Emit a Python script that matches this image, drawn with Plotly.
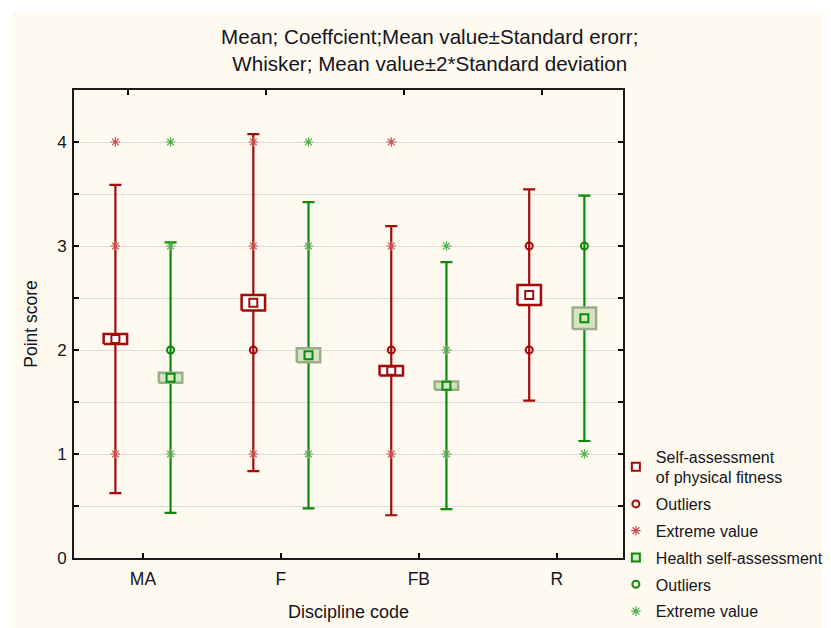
import plotly.graph_objects as go

# ---------------- data ----------------
categories = ["MA", "F", "FB", "R"]

fit_mean = [2.106, 2.455, 1.801, 2.529]
fit_se = [0.048, 0.075, 0.046, 0.096]
fit_sd = [0.741, 0.810, 0.695, 0.508]

health_mean = [1.734, 1.949, 1.657, 2.305]
health_se = [0.048, 0.067, 0.040, 0.104]
health_sd = [0.650, 0.736, 0.594, 0.590]

fit_outlier_cat = ["F", "FB", "R", "R"]
fit_outlier_val = [2, 2, 3, 2]
fit_extreme_cat = ["MA", "MA", "MA", "F", "F", "F", "FB", "FB", "FB"]
fit_extreme_val = [4, 3, 1, 4, 3, 1, 4, 3, 1]

health_outlier_cat = ["MA", "R"]
health_outlier_val = [2, 3]
health_extreme_cat = ["MA", "MA", "MA", "F", "F", "F", "FB", "FB", "FB", "R"]
health_extreme_val = [4, 3, 1, 4, 3, 1, 3, 2, 1, 1]

y_ticks = [0, 0.5, 1, 1.5, 2, 2.5, 3, 3.5, 4, 4.5]
y_ticktext = ["0", "", "1", "", "2", "", "3", "", "4", ""]

# ---------------- styling ----------------
RED = "#a30a0a"
RED_LIGHT = "#c94f4f"
GREEN = "#0b8a0b"
GREEN_LIGHT = "#4cae4c"
GREEN_FILL = "#d3e5c1"
GREEN_EDGE = "#9aae8a"
TXT = "#141420"
OFFSET = 0.2
HALF_W = 0.085

W, H = 823, 620
L, R, T, B = 66, 208, 82, 70
PW, PH = W - L - R, H - T - B

pos = {c: i for i, c in enumerate(categories)}


def xs(cats, off):
    return [pos[c] + off for c in cats]


def box_poly(means, ses, off):
    px, py = [], []
    for i, (m, s) in enumerate(zip(means, ses)):
        x = i + off
        px += [x - HALF_W, x + HALF_W, x + HALF_W, x - HALF_W, x - HALF_W, None]
        py += [m - s, m - s, m + s, m + s, m - s, None]
    return px, py


fig = go.Figure()

series = [
    ("Self-assessment<br>of physical fitness", fit_mean, fit_se, fit_sd, -OFFSET,
     RED, RED_LIGHT, "white", RED, "white",
     fit_outlier_cat, fit_outlier_val, fit_extreme_cat, fit_extreme_val, 0),
    ("Health self-assessment", health_mean, health_se, health_sd, OFFSET,
     GREEN, GREEN_LIGHT, GREEN_FILL, GREEN_EDGE, GREEN_FILL,
     health_outlier_cat, health_outlier_val, health_extreme_cat, health_extreme_val, 3),
]

# whiskers + boxes
for (name, m, se, sd, off, col, lcol, bfill, bedge, mfill, oc, ov, ec, ev, rk) in series:
    fig.add_trace(go.Scatter(
        x=[i + off for i in range(len(categories))], y=m, mode="markers",
        marker=dict(size=1, color="rgba(0,0,0,0)"),
        error_y=dict(type="data", array=[2 * v for v in sd], symmetric=True,
                     color=col, thickness=2.2, width=6),
        showlegend=False, hoverinfo="skip"))
    bx, by = box_poly(m, se, off)
    fig.add_trace(go.Scatter(
        x=bx, y=by, mode="lines", fill="toself", fillcolor=bfill,
        line=dict(color=bedge, width=2.5), showlegend=False, hoverinfo="skip"))

# means, outliers, extremes
for (name, m, se, sd, off, col, lcol, bfill, bedge, mfill, oc, ov, ec, ev, rk) in series:
    fig.add_trace(go.Scatter(
        x=[i + off for i in range(len(categories))], y=m, mode="markers", name=name,
        marker=dict(symbol="square", size=8, color=mfill, line=dict(color=col, width=2)),
        legendrank=rk + 1, legendgroup=f"g{rk+1}"))
    fig.add_trace(go.Scatter(
        x=xs(oc, off), y=ov, mode="markers", name="Outliers",
        marker=dict(symbol="circle-open", size=7, color=col, line=dict(width=2)),
        legendrank=rk + 2, legendgroup=f"g{rk+2}"))
    fig.add_trace(go.Scatter(
        x=xs(ec, off), y=ev, mode="markers", name="Extreme value",
        marker=dict(symbol="asterisk-open", size=8, color=lcol, line=dict(width=1.2, color=lcol)),
        legendrank=rk + 3, legendgroup=f"g{rk+3}"))

# invisible trace to carry the top tick axis
fig.add_trace(go.Scatter(x=[pos[c] - 0.11 for c in categories], y=fit_mean, xaxis="x2",
                         mode="markers", marker=dict(size=1, color="rgba(0,0,0,0)"),
                         showlegend=False, hoverinfo="skip"))

xrange = [-0.5, 3.48]
fig.update_layout(
    width=W, height=H,
    margin=dict(l=L, r=R, t=T, b=B, autoexpand=False),
    paper_bgcolor="white", plot_bgcolor="white",
    font=dict(family="Liberation Sans, Arial, sans-serif", color=TXT, size=16),
    title=dict(
        text="Mean; Coeffcient;Mean value±Standard erorr;<br>Whisker; Mean value±2*Standard deviation",
        x=0.648, xref="paper", xanchor="center",
        y=1 - 36 / H, yref="container", yanchor="top",
        font=dict(size=20.6, family="Liberation Sans, Arial, sans-serif", color=TXT)),
    xaxis=dict(
        range=xrange, tickmode="array", tickvals=list(range(len(categories))),
        ticktext=categories, ticks="inside", ticklen=5, tickwidth=1.5, tickcolor="black",
        showline=True, linecolor="#1a1a1a", linewidth=2, mirror=True,
        showgrid=False, zeroline=False, tickfont=dict(size=17.5),
        ticklabelstandoff=4,
        title=dict(text="Discipline code", font=dict(size=18), standoff=17),
        automargin=False),
    xaxis2=dict(
        range=xrange, overlaying="x", side="top", anchor="y", tickmode="array",
        tickvals=[pos[c] - 0.11 for c in categories], ticktext=["" for _ in categories],
        ticks="inside", ticklen=5, tickwidth=1.5, tickcolor="black",
        showline=False, showgrid=False, zeroline=False, automargin=False),
    yaxis=dict(
        range=[0, 4.5], tickmode="array", tickvals=y_ticks, ticktext=y_ticktext,
        ticks="inside", ticklen=5, tickwidth=1.5, tickcolor="black",
        showline=True, linecolor="#1a1a1a", linewidth=2, mirror="ticks",
        showgrid=True, gridcolor="#dcdcdc", gridwidth=1.2, zeroline=False,
        tickfont=dict(size=17), ticklabelstandoff=2,
        title=dict(text="Point score", font=dict(size=17.5), standoff=15),
        automargin=False),
    legend=dict(
        x=0.987, y=0.262 - 4 / PH, xanchor="left", yanchor="top",
        bgcolor="rgba(0,0,0,0)", borderwidth=0,
        font=dict(family="Liberation Sans, Arial, sans-serif", size=16, color=TXT),
        traceorder="grouped", tracegroupgap=3, itemwidth=30),
    shapes=[dict(type="rect", xref="paper", yref="paper",
                 x0=(12 - 74) / PW, x1=(840 - 74) / PW,
                 y0=(558 - 640) / PH, y1=(558 - 12) / PH,
                 fillcolor="#fffaf0", line=dict(width=0), layer="below")],
)

fig.write_html("out.html")
